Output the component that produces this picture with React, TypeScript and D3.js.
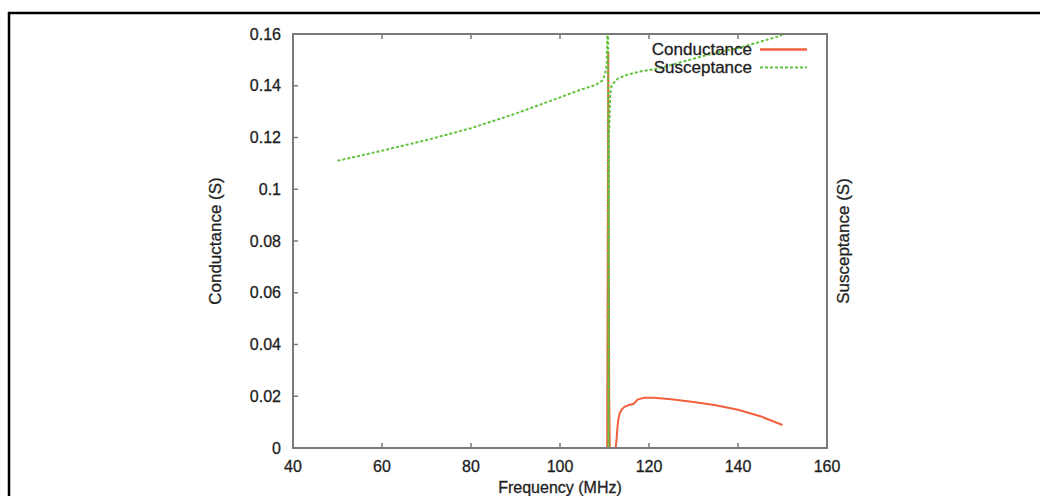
import React from "react";
import * as d3 from "d3";

const xTicks = [40, 60, 80, 100, 120, 140, 160];
const yTicks = [0, 0.02, 0.04, 0.06, 0.08, 0.1, 0.12, 0.14, 0.16];
const yTickLabels = ["0", "0.02", "0.04", "0.06", "0.08", "0.1", "0.12", "0.14", "0.16"];

const condFreq = [50, 60, 70, 80, 90, 100, 105, 110, 110.6, 110.85, 111.05, 111.2, 112, 112.5, 112.7, 112.9, 113.1, 113.4, 113.9, 114.6, 115.5, 116.5, 117.5, 119, 121, 125, 130, 135, 140, 145, 150];
const condValues = [0, 0, 0, 0, 0, 0, 0, 0, 0, 0.153, 0.02, 0, 0, 0, 0.003, 0.008, 0.011, 0.0133, 0.015, 0.016, 0.0166, 0.017, 0.0188, 0.0194, 0.0194, 0.0188, 0.0178, 0.0165, 0.0148, 0.0123, 0.0089];

const suscFreq = [50, 60, 70, 80, 90, 100, 104.5, 108, 109.5, 110.1, 110.5, 110.8, 110.9, 111.0, 111.3, 111.6, 112, 113, 115, 118, 122.5, 127, 133.7, 140, 145, 148.7, 150];
const suscValues = [0.111, 0.1149, 0.119, 0.1236, 0.1292, 0.1355, 0.1384, 0.1403, 0.142, 0.1442, 0.148, 0.175, -0.05, 0.12, 0.137, 0.14, 0.141, 0.1428, 0.1442, 0.1455, 0.1468, 0.149, 0.1522, 0.1546, 0.157, 0.1589, 0.1597];

const legendLabels = ["Conductance", "Susceptance"];
const xTitle = "Frequency (MHz)";
const yTitle = "Conductance (S)";
const y2Title = "Susceptance (S)";

const W = 1040;
const H = 496;
const left = 293, right = 827, top = 34, bottom = 448;

const RED = "#f2603f";
const GREEN = "#62c23e";
const AXIS = "#7a7a7a";
const TXT = "#1e1e1e";
const FONT = "'Liberation Sans', Arial, Helvetica, sans-serif";

export default function App() {
  const x = d3.scaleLinear().domain([40, 160]).range([left, right]);
  const y = d3.scaleLinear().domain([0, 0.16]).range([bottom, top]);

  const condPts: [number, number][] = condFreq.map((f, i) => [f, condValues[i]]);
  const suscPts: [number, number][] = suscFreq.map((f, i) => [f, suscValues[i]]);
  const line = d3
    .line<[number, number]>()
    .x((d) => x(d[0]))
    .y((d) => y(d[1]));

  const txtProps = { fill: TXT, stroke: TXT, strokeWidth: 0.3 };

  return (
    <div style={{ position: "absolute", left: 0, top: 0 }}>
      <svg width={W} height={H} style={{ display: "block", background: "#fff" }} fontFamily={FONT}>
        <rect x={0} y={0} width={W} height={H} fill="#fff" />
        {/* outer frame */}
        <line x1={8} x2={W} y1={13} y2={13} stroke="#000" strokeWidth={2.5} />
        <line x1={9} x2={9} y1={12} y2={H} stroke="#000" strokeWidth={2.5} />

        <defs>
          <clipPath id="plotclip">
            <rect x={left} y={top} width={right - left} height={bottom - top} />
          </clipPath>
        </defs>

        {/* ticks */}
        {xTicks.map((t) => (
          <g key={"xt" + t}>
            <line x1={x(t)} x2={x(t)} y1={bottom} y2={bottom - 5} stroke={AXIS} strokeWidth={1.5} />
            <line x1={x(t)} x2={x(t)} y1={top} y2={top + 5} stroke={AXIS} strokeWidth={1.5} />
            <text x={x(t)} y={472} textAnchor="middle" fontSize={16} {...txtProps}>
              {t}
            </text>
          </g>
        ))}
        {yTicks.map((t, i) => (
          <g key={"yt" + t}>
            <line x1={left} x2={left + 5} y1={y(t)} y2={y(t)} stroke={AXIS} strokeWidth={1.5} />
            <text x={281} y={y(t) + 5.5} textAnchor="end" fontSize={16} {...txtProps}>
              {yTickLabels[i]}
            </text>
          </g>
        ))}

        {/* data */}
        <g clipPath="url(#plotclip)">
          <path d={line(condPts) ?? ""} fill="none" stroke={RED} strokeWidth={2} strokeLinejoin="round" />
          <path d={line(suscPts) ?? ""} fill="none" stroke={GREEN} strokeWidth={2} strokeDasharray="3,2" />
        </g>

        {/* frame */}
        <rect x={left} y={top} width={right - left} height={bottom - top} fill="none" stroke={AXIS} strokeWidth={2} />

        {/* legend */}
        <text x={752} y={55} textAnchor="end" fontSize={17} {...txtProps}>
          {legendLabels[0]}
        </text>
        <line x1={760} x2={807} y1={49.5} y2={49.5} stroke={RED} strokeWidth={2.5} />
        <text x={752} y={73} textAnchor="end" fontSize={17} {...txtProps}>
          {legendLabels[1]}
        </text>
        <line x1={760} x2={807} y1={67.5} y2={67.5} stroke={GREEN} strokeWidth={2} strokeDasharray="3,2" />

        {/* titles */}
        <text x={560} y={493} textAnchor="middle" fontSize={16} {...txtProps}>
          {xTitle}
        </text>
        <text transform={`translate(221,241) rotate(-90)`} textAnchor="middle" fontSize={17} {...txtProps}>
          {yTitle}
        </text>
        <text transform={`translate(849,241) rotate(-90)`} textAnchor="middle" fontSize={17} {...txtProps}>
          {y2Title}
        </text>
      </svg>
    </div>
  );
}
